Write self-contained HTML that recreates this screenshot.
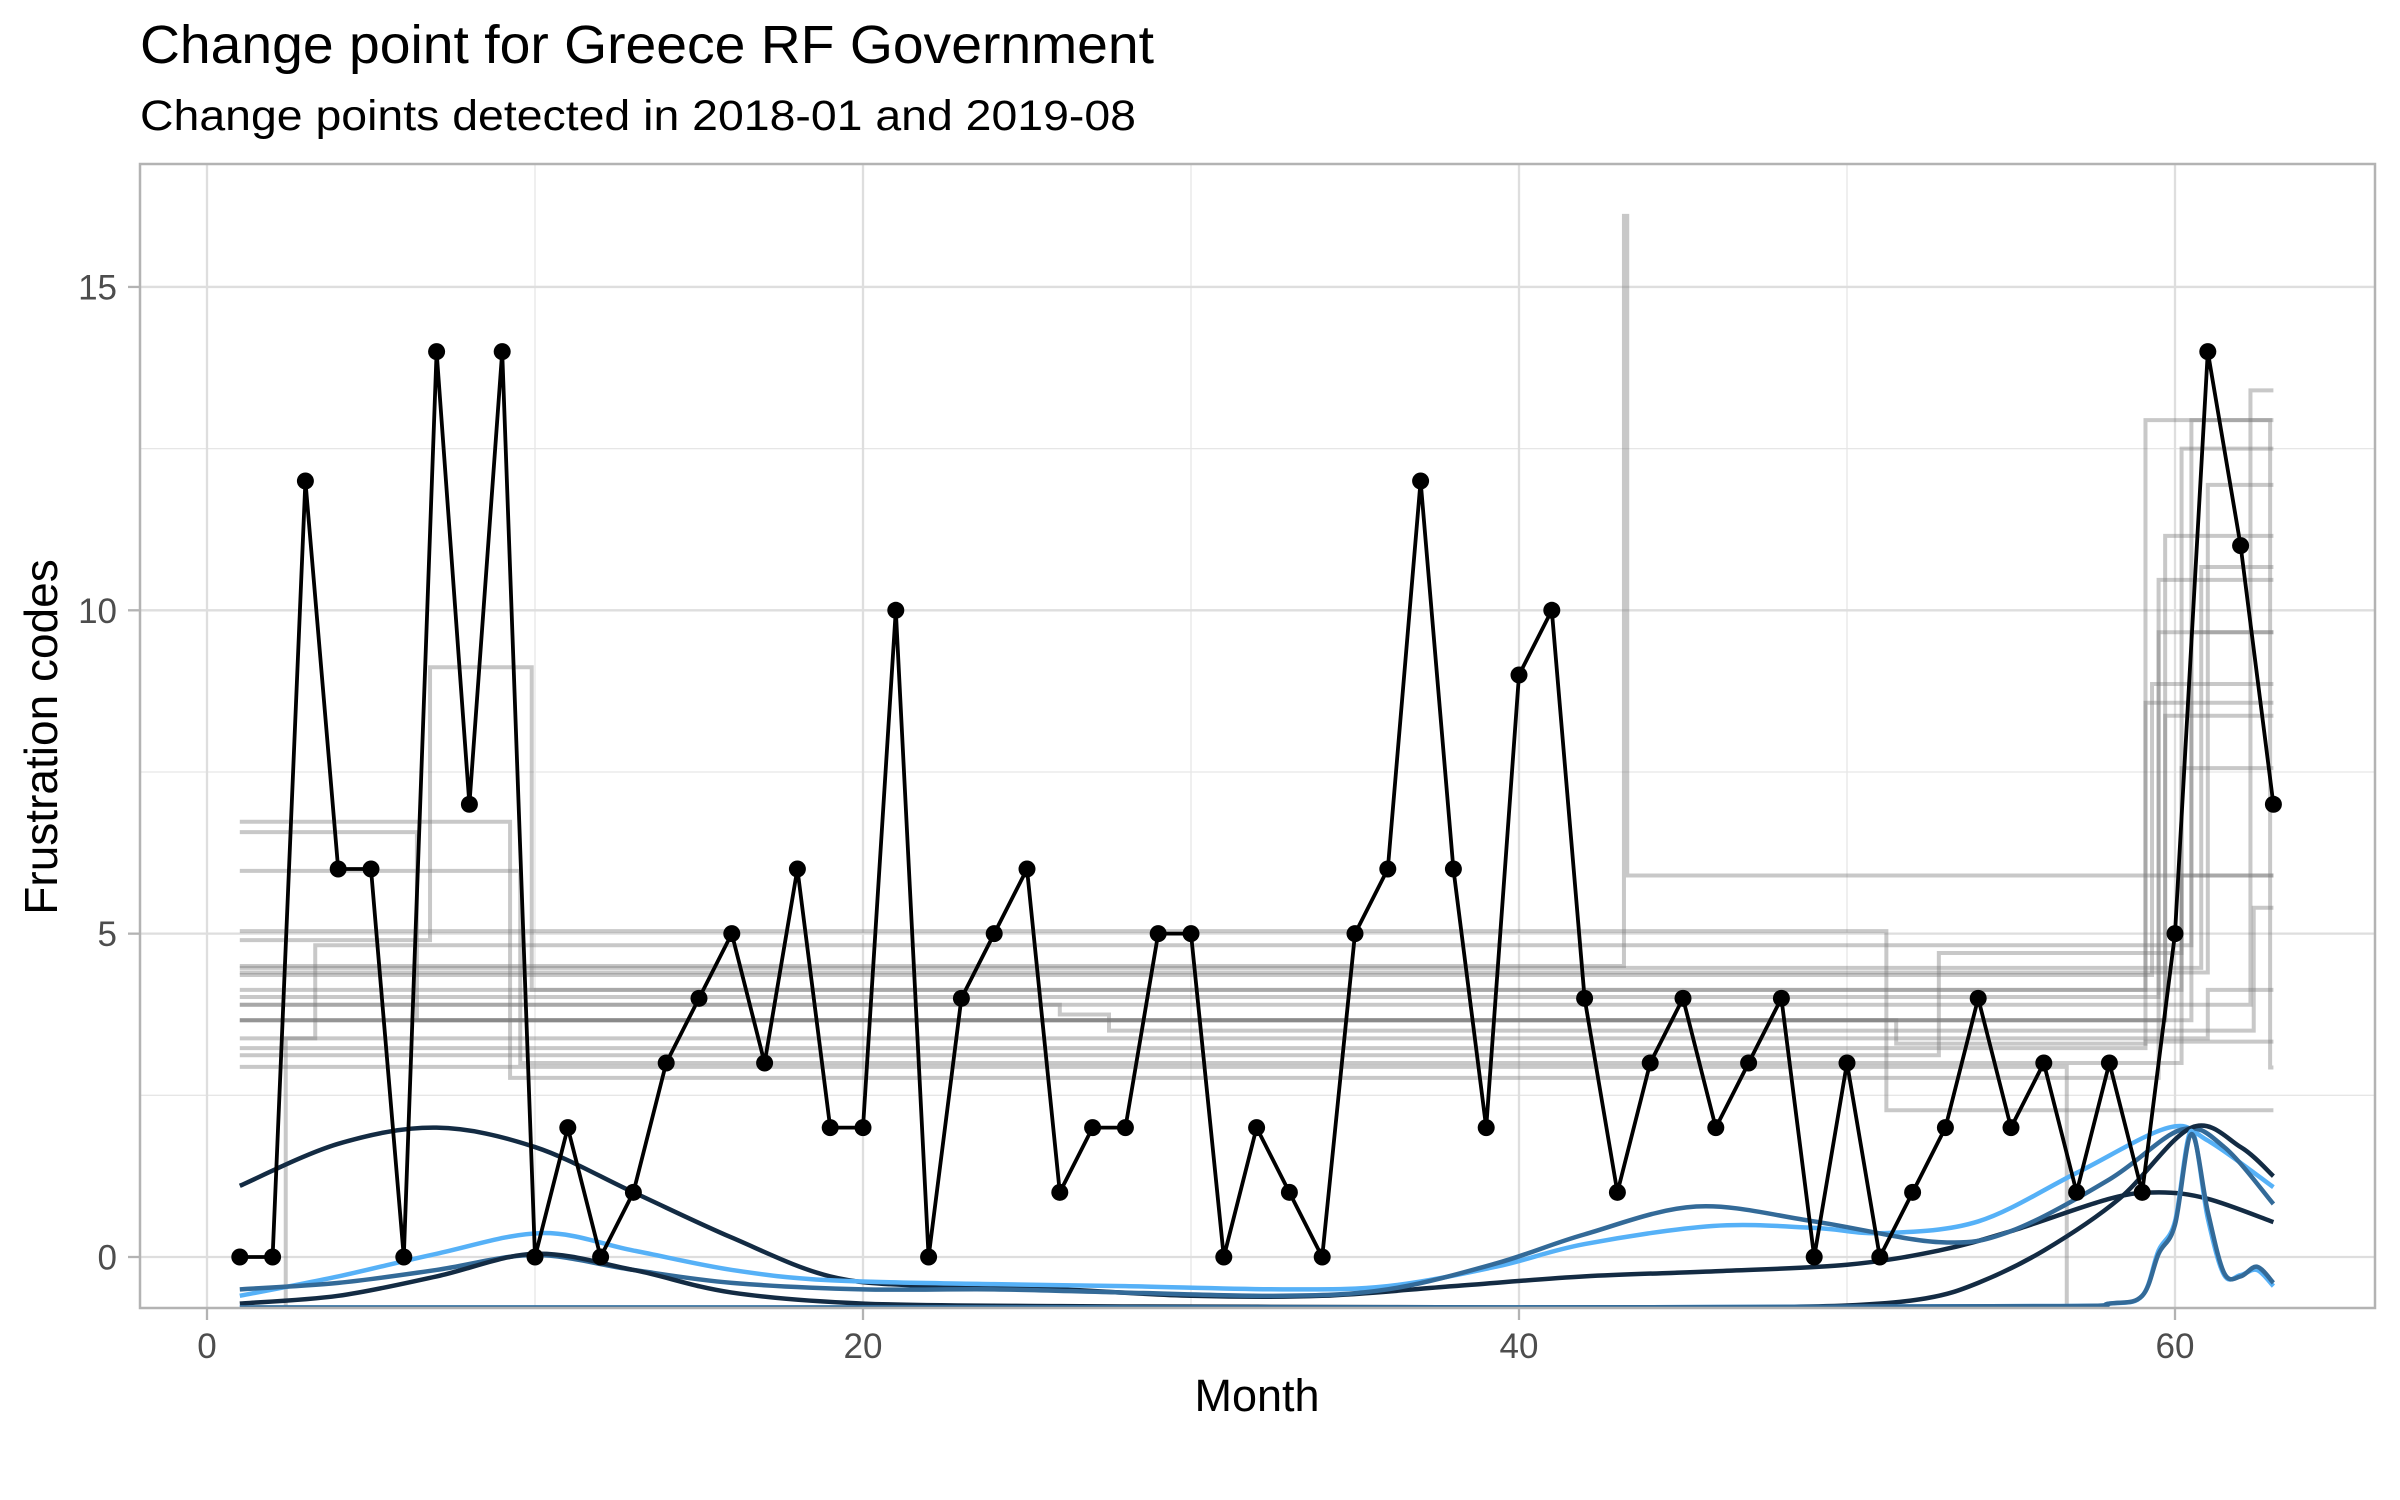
<!DOCTYPE html>
<html><head><meta charset="utf-8"><style>
html,body{margin:0;padding:0;background:#fff;}
svg{display:block;font-family:"Liberation Sans",Arial,sans-serif;}
</style></head><body>
<svg id="chart" width="2400" height="1500" viewBox="0 0 2400 1500" xmlns="http://www.w3.org/2000/svg">
<rect width="2400" height="1500" fill="#fff"/>
<text x="140" y="63" font-size="54" fill="#000" textLength="1014" lengthAdjust="spacingAndGlyphs">Change point for Greece RF Government</text>
<text x="140" y="130" font-size="43" fill="#000" textLength="996" lengthAdjust="spacingAndGlyphs">Change points detected in 2018-01 and 2019-08</text>
<g id="grid"></g>
<defs><clipPath id="pc"><rect x="140" y="164" width="2235" height="1144"/></clipPath></defs>
<g id="steps" clip-path="url(#pc)"></g>
<g id="curves" clip-path="url(#pc)"></g>
<g id="series"></g>
<rect x="140" y="164" width="2235" height="1144" fill="none" stroke="#B3B3B3" stroke-width="2.5"/>
<g id="axes"></g>
<text x="1257" y="1411" font-size="45" text-anchor="middle" fill="#000">Month</text>
<text transform="translate(57,737) rotate(-90)" font-size="46" text-anchor="middle" fill="#000">Frustration codes</text>
</svg>
<script>
const months = [1,2,3,4,5,6,7,8,9,10,11,12,13,14,15,16,17,18,19,20,21,22,23,24,25,26,27,28,29,30,31,32,33,34,35,36,37,38,39,40,41,42,43,44,45,46,47,48,49,50,51,52,53,54,55,56,57,58,59,60,61,62,63];
const codes = [0,0,12,6,6,0,14,7,14,0,2,0,1,3,4,5,3,6,2,2,10,0,4,5,6,1,2,2,5,5,0,2,1,0,5,6,12,6,2,9,10,4,1,3,4,2,3,4,0,3,0,1,2,4,2,3,1,3,1,5,14,11,7];
const xTicks = [0,20,40,60];
const xMinor = [10,30,50];
const yTicks = [0,5,10,15];
const yMinor = [2.5,7.5,12.5];
// change-point step lines: breakpoints and levels
const stepXs = [
 [1,43.2,43.3,63],[1,6.8,9.9,59.1,63],[1,9.24,59.5,63],[1,6.4,59.7,63],[1,9.55,60.2,63],
 [1,51.2,63],[1,2.4,3.3,60.5,62.9,63],[1,60.8,63],[1,61,63],[1,60.2,63],[1,59.5,63],
 [1,62.3,63],[1,60.5,63],[1,59.7,63],[1,26,27.5,62.4,63],[1,61,63],[1,59.1,63],
 [1,52.8,60.2,63],[1,56.7,63],[1,51.5,59.1,63],[1,59.3,63]
];
const stepYs = [
 [4.5,16.1,5.9],[4.9,9.12,4.13,8.57],[6.73,2.77,9.66],[6.57,3.66,11.15],[5.97,3.0,12.5],
 [5.04,2.27],[-1,3.38,4.82,12.94,2.93],[4.47,10.67],[4.4,11.94],[4.13,7.56],[4.02,10.47],
 [3.9,13.4],[3.66,9.66],[3.66,8.37],[3.9,3.75,3.5,5.4],[3.38,4.13],[3.23,3.33],
 [3.12,4.7,5.9],[2.94,-1],[3.66,3.3,12.94],[4.36,8.86]
];
// smooth density-like curves
const curveColors = ["#132B43","#56B1F7","#336A98","#132B43","#56B1F7","#336A98"];
const curveMonths = [
 [1,4,7,10,13,16,19,22,26,30,34,38,42,46,50,52.8,55,58,59.5,61,63],
 [1,4,7,10.2,13,16,19,24,28,32.8,36,39.3,42,45.9,49,51.1,54,57,59.8,61,63],
 [1,4,7,10,13,16,20,24,28,32.8,36,39.3,42,45.4,49,52.8,55,58,60.2,61.5,63],
 [1,4,7,10,13,16,20,26,32,40,46,50,52.4,54,56,58.3,60.5,62,63],
 [1,20,40,56,58,59,59.5,60,60.5,61,61.5,62,62.5,63],
 [1,20,40,56,58,59,59.5,60,60.5,61,61.5,62,62.5,63]
];
const curveValues = [
 [1.1,1.75,2.0,1.7,1.0,0.3,-0.3,-0.45,-0.5,-0.6,-0.6,-0.45,-0.3,-0.22,-0.12,0.1,0.4,0.9,1.0,0.9,0.54],
 [-0.6,-0.3,0.05,0.37,0.1,-0.2,-0.36,-0.42,-0.45,-0.5,-0.45,-0.15,0.2,0.48,0.45,0.37,0.55,1.3,2.0,1.8,1.08],
 [-0.5,-0.4,-0.2,0.03,-0.2,-0.4,-0.5,-0.5,-0.55,-0.6,-0.5,-0.1,0.35,0.78,0.55,0.23,0.4,1.2,1.97,1.7,0.82],
 [-0.72,-0.6,-0.3,0.05,-0.2,-0.55,-0.72,-0.76,-0.77,-0.78,-0.78,-0.75,-0.64,-0.4,0.1,0.9,2.0,1.7,1.25],
 [-0.78,-0.78,-0.78,-0.76,-0.72,-0.6,0.1,0.55,1.95,0.6,-0.28,-0.28,-0.2,-0.45],
 [-0.78,-0.78,-0.78,-0.76,-0.72,-0.6,0.05,0.5,1.9,0.7,-0.25,-0.3,-0.15,-0.4]
];

const NS="http://www.w3.org/2000/svg";
const X0=207, XS=32.8, Y0=1257, YS=64.67;
function sx(m){return X0+m*XS;}
function sy(v){return Y0-v*YS;}
function mk(tag,parent){const e=document.createElementNS(NS,tag);parent.appendChild(e);return e;}
const grid=document.getElementById('grid');
const axes=document.getElementById('axes');

xMinor.forEach(t=>{const l=mk('line',grid);


l.setAttribute('x1',sx(t));l.setAttribute('x2',sx(t));l.setAttribute('y1',164);l.setAttribute('y2',1308);l.setAttribute('stroke','#E6E6E6');l.setAttribute('stroke-width','1.3');});
yMinor.forEach(t=>{const l=mk('line',grid);


l.setAttribute('x1',140);l.setAttribute('x2',2375);l.setAttribute('y1',sy(t));l.setAttribute('y2',sy(t));l.setAttribute('stroke','#E6E6E6');l.setAttribute('stroke-width','1.3');});
xTicks.forEach(t=>{const l=mk('line',grid);


l.setAttribute('x1',sx(t));l.setAttribute('x2',sx(t));l.setAttribute('y1',164);l.setAttribute('y2',1308);l.setAttribute('stroke','#DEDEDE');l.setAttribute('stroke-width','2.3');
const tk=mk('line',axes);


tk.setAttribute('x1',sx(t));tk.setAttribute('x2',sx(t));tk.setAttribute('y1',1309);tk.setAttribute('y2',1320);tk.setAttribute('stroke','#B3B3B3');tk.setAttribute('stroke-width','2.3');
const tx=mk('text',axes);


tx.setAttribute('x',sx(t));tx.setAttribute('y',1358);tx.setAttribute('text-anchor','middle');tx.setAttribute('font-size','35');tx.setAttribute('fill','#4D4D4D');tx.textContent=t;});
yTicks.forEach(t=>{const l=mk('line',grid);


l.setAttribute('x1',140);l.setAttribute('x2',2375);l.setAttribute('y1',sy(t));l.setAttribute('y2',sy(t));l.setAttribute('stroke','#DEDEDE');l.setAttribute('stroke-width','2.3');
const tk=mk('line',axes);


tk.setAttribute('x1',128);tk.setAttribute('x2',139);tk.setAttribute('y1',sy(t));tk.setAttribute('y2',sy(t));tk.setAttribute('stroke','#B3B3B3');tk.setAttribute('stroke-width','2.3');
const tx=mk('text',axes);


tx.setAttribute('x',117);tx.setAttribute('y',sy(t)+12.5);tx.setAttribute('text-anchor','end');tx.setAttribute('font-size','35');tx.setAttribute('fill','#4D4D4D');tx.textContent=t;});

const steps=document.getElementById('steps');
stepXs.forEach((xs,i)=>{const ys=stepYs[i];let d='M'+sx(xs[0])+','+sy(ys[0]);
for(let k=0;k<ys.length;k++){d+=' H'+sx(xs[k+1]);if(k+1<ys.length)d+=' V'+sy(ys[k+1]);}
const p=mk('path',steps);


p.setAttribute('d',d);p.setAttribute('fill','none');p.setAttribute('stroke','rgba(125,125,125,0.42)');p.setAttribute('stroke-width','4');});

const curves=document.getElementById('curves');
curveMonths.forEach((ms,i)=>{const vs=curveValues[i];const P=ms.map((m,k)=>[sx(m),sy(vs[k])]);
let d='M'+P[0][0]+','+P[0][1];
for(let k=0;k<P.length-1;k++){const p0=P[k-1]||P[k],p1=P[k],p2=P[k+1],p3=P[k+2]||P[k+1];
const c1=[p1[0]+(p2[0]-p0[0])/6,p1[1]+(p2[1]-p0[1])/6],c2=[p2[0]-(p3[0]-p1[0])/6,p2[1]-(p3[1]-p1[1])/6];
d+=' C'+c1[0]+','+c1[1]+' '+c2[0]+','+c2[1]+' '+p2[0]+','+p2[1];}
const p=mk('path',curves);


p.setAttribute('d',d);p.setAttribute('fill','none');p.setAttribute('stroke',curveColors[i]);p.setAttribute('stroke-width','4.5');});

const series=document.getElementById('series');
const pl=mk('polyline',series);


pl.setAttribute('points',months.map((m,k)=>sx(m)+','+sy(codes[k])).join(' '));
pl.setAttribute('fill','none');pl.setAttribute('stroke','#000');pl.setAttribute('stroke-width','3.8');
months.forEach((m,k)=>{const c=mk('circle',series);


c.setAttribute('cx',sx(m));c.setAttribute('cy',sy(codes[k]));c.setAttribute('r','8.5');c.setAttribute('fill','#000');});
</script>
</body></html>
